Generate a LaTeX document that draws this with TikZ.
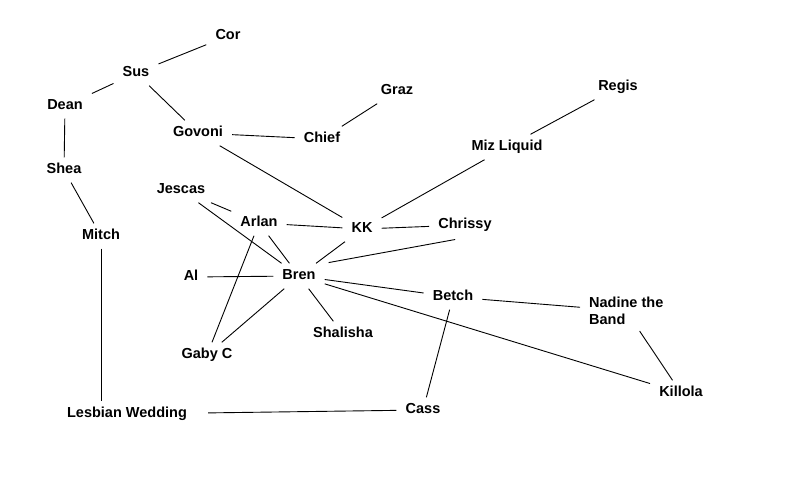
\documentclass[tikz,border=0pt]{standalone}
\usepackage{fontspec}
\setmainfont{Liberation Sans}
\begin{document}
\begin{tikzpicture}[x=1pt,y=-1pt,
  person/.style={font=\bfseries\fontsize{14.5}{17}\selectfont, inner xsep=9pt, inner ysep=6pt, text height=10pt, text depth=3pt},
  multi/.style={font=\bfseries\fontsize{14.5}{17}\selectfont, inner xsep=9pt, inner ysep=6pt, align=left},
  link/.style={draw=black, line width=0.9pt}]
\useasboundingbox[fill=white] (0,0) rectangle (800,500);
\node[person] (cor) at (228,36) {Cor};
\node[person] (sus) at (136,73) {Sus};
\node[person] (dean) at (65,106) {Dean};
\node[person] (shea) at (64,170) {Shea};
\node[person] (mitch) at (101,236) {Mitch};
\node[person] (govoni) at (198,133) {Govoni};
\node[person] (chief) at (322,139) {Chief};
\node[person] (graz) at (397,91) {Graz};
\node[person] (regis) at (618,87) {Regis};
\node[person] (miz) at (507,147) {Miz Liquid};
\node[person] (jescas) at (181,190) {Jescas};
\node[person] (arlan) at (259,223) {Arlan};
\node[person] (kk) at (362,229) {KK};
\node[person] (chrissy) at (465,225) {Chrissy};
\node[person] (al) at (191,277) {Al};
\node[person] (bren) at (299,276) {Bren};
\node[person] (betch) at (453,297) {Betch};
\node[multi, anchor=west] (nadine) at (580,311) {Nadine the\\Band};
\node[person] (shalisha) at (343,334) {Shalisha};
\node[person] (gaby) at (207,355) {Gaby C};
\node[person] (killola) at (681,393) {Killola};
\node[person] (cass) at (423,410) {Cass};
\node[person] (lw) at (127,414) {Lesbian Wedding};

\draw[link] (sus) -- (cor);
\draw[link] (sus) -- (dean);
\draw[link] (sus) -- (govoni);
\draw[link] (dean) -- (shea);
\draw[link] (shea) -- (mitch);
\draw[link] (mitch) -- (mitch |- lw.north);
\draw[link, shorten <=12pt] (lw) -- (cass);
\draw[link] (cass) -- (betch);
\draw[link] (govoni) -- (chief);
\draw[link] (chief) -- (graz);
\draw[link] (govoni) -- (kk);
\draw[link] (miz) -- (regis);
\draw[link] (miz) -- (kk);
\draw[link] (jescas) -- (arlan);
\draw[link] (jescas) -- (bren);
\draw[link] (arlan) -- (kk);
\draw[link] (kk) -- (chrissy);
\draw[link] (arlan) -- (bren);
\draw[link] (arlan) -- (gaby);
\draw[link] (kk) -- (bren);
\draw[link, shorten <=10pt, shorten >=4pt] (chrissy.south) -- (bren.north east);
\draw[link] (al) -- (bren);
\draw[link] (bren) -- (gaby);
\draw[link] (bren) -- (shalisha);
\draw[link] (bren) -- (betch);
\draw[link] (bren) -- (killola);
\draw[link] (betch) -- (nadine);
\draw[link] (nadine) -- (killola);
\end{tikzpicture}
\end{document}
